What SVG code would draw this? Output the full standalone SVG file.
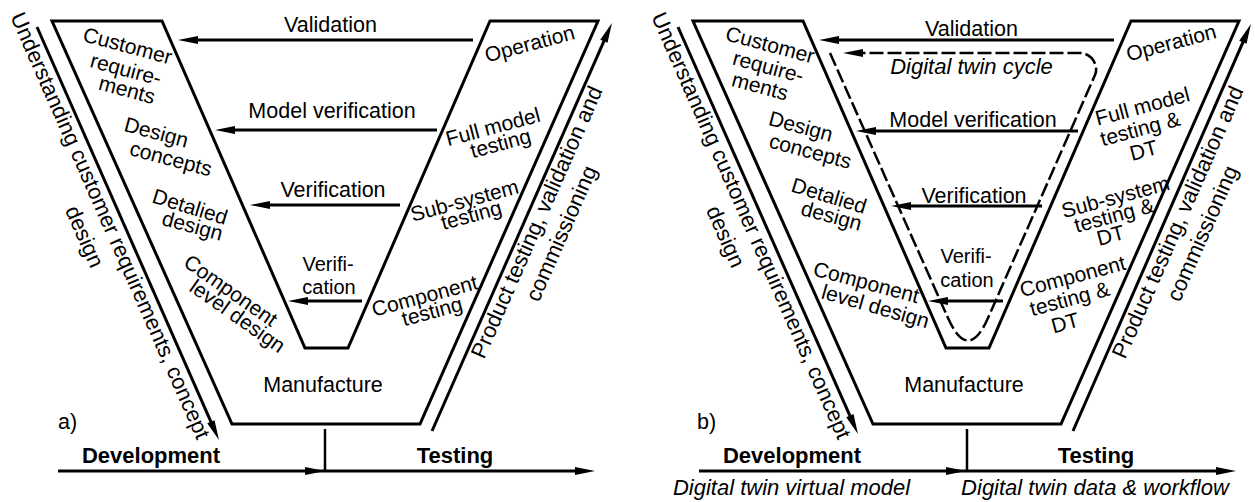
<svg xmlns="http://www.w3.org/2000/svg" width="1255" height="502" viewBox="0 0 1255 502">
<style>
text{font-family:"Liberation Sans",Arial,sans-serif;fill:#000}
.h{font-size:21.5px;text-anchor:middle}
.hs{font-size:20px;text-anchor:middle}
.r{font-size:21px;text-anchor:middle}
.long{font-size:22px}
.b{font-size:22px;font-weight:bold;text-anchor:middle}
.i{font-size:22px;font-style:italic;text-anchor:middle}
.v{fill:none;stroke:#000;stroke-width:3;stroke-linejoin:miter}
.ln{fill:none;stroke:#000;stroke-width:3}
.tk{fill:none;stroke:#000;stroke-width:2.5}
.dash{fill:none;stroke:#000;stroke-width:2.5;stroke-dasharray:14 4}
</style>
<defs>
<marker id="ah" markerUnits="userSpaceOnUse" markerWidth="20" markerHeight="8" viewBox="0 0 20 8" refX="4" refY="4" orient="auto" overflow="visible">
<path d="M0,0 L20,4 L0,8 Z" fill="#000"/>
</marker>
</defs>

<!-- Panel a -->
<g id="panel-a">
<g id="a-vshape"><polygon class="v" points="52,21 162,21 305,348 348,348 490,21 598,21 420,424 232,424"/></g>
<g id="a-left-labels">
<text class="r" transform="translate(127.5 46) rotate(15)" dy="0.33em">Customer</text>
<text class="r" transform="translate(125.5 70.5) rotate(15)" dy="0.28em">require-</text>
<text class="r" transform="translate(127 90) rotate(15)" dy="0.33em">ments</text>
<text class="r" transform="translate(156 133.5) rotate(15)" dy="0.28em">Design</text>
<text class="r" transform="translate(170.5 160) rotate(15)" dy="0.28em">concepts</text>
<text class="r" transform="translate(190 207) rotate(17)" dy="0.33em">Detalied</text>
<text class="r" transform="translate(192 227.5) rotate(15)" dy="0.26em">design</text>
<text class="r" transform="translate(230 291.5) rotate(35)" dy="0.28em">Component</text>
<text class="r" transform="translate(236.5 317.5) rotate(35)" dy="0.26em">level design</text>
</g>
<g id="a-right-labels">
<text class="r" transform="translate(530 45) rotate(-15)" dy="0.28em">Operation</text>
<text class="r" transform="translate(493 127) rotate(-15)" dy="0.33em">Full model</text>
<text class="r" transform="translate(501 145) rotate(-15)" dy="0.26em">testing</text>
<text class="r" transform="translate(465 202) rotate(-15)" dy="0.26em">Sub-system</text>
<text class="r" transform="translate(471.7 216.7) rotate(-15)" dy="0.26em">testing</text>
<text class="r" transform="translate(425 297) rotate(-15)" dy="0.28em">Component</text>
<text class="r" transform="translate(432.5 313) rotate(-15)" dy="0.26em">testing</text>
</g>
<g id="a-center-labels">
<text class="h" x="330.5" y="32">Validation</text>
<text class="h" x="332" y="118">Model verification</text>
<text class="h" x="333" y="197">Verification</text>
<text class="hs" x="328" y="271">Verifi-</text>
<text class="hs" x="329" y="294">cation</text>
<text class="h" x="323" y="392">Manufacture</text>
</g>
<g id="a-side-texts">
<g transform="translate(10 16.5) rotate(66.2)">
<text class="long" x="0" y="0">Understanding customer requirements, concept</text>
<text class="long" x="231.5" y="28" text-anchor="middle">design</text>
</g>
<g transform="translate(484 360) rotate(-66.2)">
<text class="long" x="0" y="0">Product testing, validation and</text>
<text class="long" x="147" y="27" text-anchor="middle">commissioning</text>
</g>
</g>
<g id="a-axis-labels">
<text style="font-size:21.5px" x="58" y="429">a)</text>
<text class="b" x="151" y="463">Development</text>
<text class="b" x="455" y="463">Testing</text>
</g>
</g>

<!-- Panel b -->
<g id="panel-b">
<g id="b-vshape"><polygon class="v" points="693,21 803,21 946,348 989,348 1131,21 1239,21 1061,424 873,424"/></g>
<g id="b-left-labels">
<text class="r" transform="translate(770 45) rotate(15)" dy="0.33em">Customer</text>
<text class="r" transform="translate(768 68) rotate(15)" dy="0.28em">require-</text>
<text class="r" transform="translate(760 86.5) rotate(15)" dy="0.33em">ments</text>
<text class="r" transform="translate(800.5 127.5) rotate(15)" dy="0.28em">Design</text>
<text class="r" transform="translate(810 152.5) rotate(15)" dy="0.28em">concepts</text>
<text class="r" transform="translate(829 196) rotate(17)" dy="0.33em">Detalied</text>
<text class="r" transform="translate(831 217.5) rotate(15)" dy="0.26em">design</text>
<text class="r" transform="translate(866 283.5) rotate(15)" dy="0.28em">Component</text>
<text class="r" transform="translate(875 308) rotate(16)" dy="0.26em">level design</text>
</g>
<g id="b-right-labels">
<text class="r" transform="translate(1171.5 44) rotate(-15)" dy="0.28em">Operation</text>
<text class="r" transform="translate(1142.5 106.5) rotate(-15)" dy="0.33em">Full model</text>
<text class="r" transform="translate(1140.5 130) rotate(-15)" dy="0.28em">testing &amp;</text>
<text class="r" transform="translate(1143.5 150) rotate(-15)" dy="0.36em">DT</text>
<text class="r" transform="translate(1116 198.5) rotate(-15)" dy="0.26em">Sub-system</text>
<text class="r" transform="translate(1114.5 216.5) rotate(-15)" dy="0.28em">testing &amp;</text>
<text class="r" transform="translate(1110.5 235) rotate(-15)" dy="0.36em">DT</text>
<text class="r" transform="translate(1073 277.5) rotate(-15)" dy="0.28em">Component</text>
<text class="r" transform="translate(1070 300) rotate(-15)" dy="0.28em">testing &amp;</text>
<text class="r" transform="translate(1065 322.5) rotate(-15)" dy="0.36em">DT</text>
</g>
<g id="b-center-labels">
<text class="h" x="971.5" y="36">Validation</text>
<text class="i" x="971.5" y="74">Digital twin cycle</text>
<text class="h" x="973" y="127">Model verification</text>
<text class="h" x="974" y="203">Verification</text>
<text class="hs" x="966" y="263">Verifi-</text>
<text class="hs" x="967" y="287">cation</text>
<text class="h" x="964" y="392">Manufacture</text>
</g>
<g id="b-side-texts">
<g transform="translate(651 16.5) rotate(66.2)">
<text class="long" x="0" y="0">Understanding customer requirements, concept</text>
<text class="long" x="231.5" y="28" text-anchor="middle">design</text>
</g>
<g transform="translate(1125 360) rotate(-66.2)">
<text class="long" x="0" y="0">Product testing, validation and</text>
<text class="long" x="147" y="27" text-anchor="middle">commissioning</text>
</g>
</g>
<g id="b-axis-labels">
<text style="font-size:21.5px" x="697" y="429">b)</text>
<text class="b" x="792" y="463">Development</text>
<text class="b" x="1096" y="463">Testing</text>
<text class="i" x="791.5" y="495">Digital twin virtual model</text>
<text class="i" x="1095" y="495">Digital twin data &amp; workflow</text>
</g>
</g>

<!-- Connectors -->
<g id="connectors">
<line class="ln" x1="473" y1="40" x2="194" y2="40" marker-end="url(#ah)"/>
<line class="ln" x1="437" y1="130" x2="231" y2="130" marker-end="url(#ah)"/>
<line class="ln" x1="400" y1="205" x2="266" y2="205" marker-end="url(#ah)"/>
<line class="ln" x1="362" y1="301" x2="304" y2="301" marker-end="url(#ah)"/>
<line class="ln" x1="37" y1="27" x2="212.5" y2="425.4" marker-end="url(#ah)"/>
<line class="ln" x1="432" y1="431" x2="605.5" y2="37.6" marker-end="url(#ah)"/>
<line class="ln" x1="58" y1="471" x2="309" y2="471" marker-end="url(#ah)"/>
<line class="ln" x1="309" y1="471" x2="579" y2="471" marker-end="url(#ah)"/>
<line class="tk" x1="325" y1="429" x2="325" y2="471"/>

<line class="ln" x1="1114" y1="40" x2="835" y2="40" marker-end="url(#ah)"/>
<line class="ln" x1="1078" y1="131" x2="872" y2="131" marker-end="url(#ah)"/>
<line class="ln" x1="1042" y1="206" x2="907" y2="206" marker-end="url(#ah)"/>
<line class="ln" x1="1003" y1="301" x2="944" y2="301" marker-end="url(#ah)"/>
<line class="ln" x1="678" y1="27" x2="851.5" y2="419.4" marker-end="url(#ah)"/>
<line class="ln" x1="1073" y1="431" x2="1244.5" y2="38.6" marker-end="url(#ah)"/>
<line class="ln" x1="699" y1="471" x2="950" y2="471" marker-end="url(#ah)"/>
<line class="ln" x1="950" y1="471" x2="1220" y2="471" marker-end="url(#ah)"/>
<line class="tk" x1="967" y1="429" x2="967" y2="471"/>
<path class="dash" d="M830,53 L948,318 C961.4,348 974.8,348 988,318 L1095,75 C1099,66 1092,53 1080,53 L859,53" marker-end="url(#ah)"/>
</g>
</svg>
